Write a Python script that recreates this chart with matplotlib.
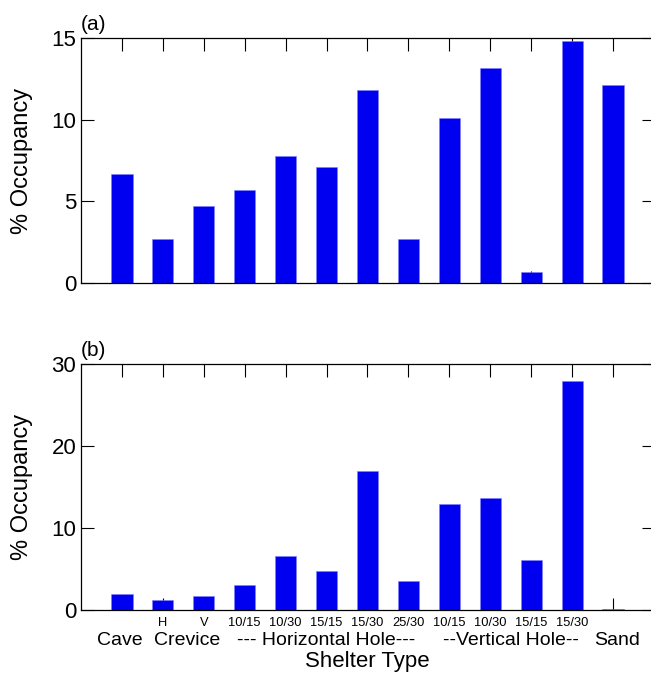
import matplotlib.pyplot as plt
import numpy as np

plt.rcParams['font.family'] = ['Liberation Sans', 'DejaVu Sans']

# 13 shelter types, left to right
sub_labels = ['', 'H', 'V', '10/15', '10/30', '15/15', '15/30', '25/30',
              '10/15', '10/30', '15/15', '15/30', '']
occ_a = [6.7, 2.7, 4.7, 5.7, 7.8, 7.1, 11.8, 2.7, 10.1, 13.15, 0.67, 14.8, 12.1]
occ_b = [2.0, 1.2, 1.7, 3.05, 6.55, 4.7, 17.0, 3.5, 12.9, 13.7, 6.05, 27.9, 0.1]
group_names = ['Cave', 'Crevice', '--- Horizontal Hole---', '--Vertical Hole--', 'Sand']
group_pos = [-0.05, 1.6, 5, 9.5, 12.1]

x = np.arange(len(sub_labels))

fig = plt.figure(figsize=(6.51, 6.75), dpi=100)
ax1 = fig.add_axes([81 / 651, 1 - 283 / 675, 573 / 651, 245 / 675])
ax2 = fig.add_axes([81 / 651, 1 - 610 / 675, 573 / 651, 246 / 675])

for ax, vals, top, step, tag in [(ax1, occ_a, 15, 5, '(a)'), (ax2, occ_b, 30, 10, '(b)')]:
    ax.bar(x, vals, width=0.52, color='#0000f0', edgecolor='#8080ff', linewidth=0.4)
    ax.set_xlim(-1, 13)
    ax.set_ylim(0, top)
    ax.set_yticks(np.arange(0, top + 1, step))
    ax.set_xticks(x)
    ax.set_axisbelow(True)
    ax.tick_params(axis='both', direction='in', top=True, right=True, length=9,
                   width=0.8, labelsize=16)
    ax.tick_params(axis='x', labelsize=9.3, pad=5)
    ax.set_ylabel('% Occupancy', fontsize=17)
    ax.yaxis.set_label_coords(-0.084, 0.5)
    ax.text(0.0, 1.015, tag, transform=ax.transAxes, fontsize=15, ha='left', va='bottom')
    for s in ax.spines.values():
        s.set_linewidth(0.9)

ax1.set_xticklabels([''] * len(x))
ax2.set_xticklabels(sub_labels)

for name, p in zip(group_names, group_pos):
    ax2.text(p, -0.122, name, transform=ax2.get_xaxis_transform(), ha='center',
             va='center', fontsize=14)
ax2.text(6, -0.211, 'Shelter Type', transform=ax2.get_xaxis_transform(), ha='center',
         va='center', fontsize=16)

fig.savefig('out.png', dpi=100)
